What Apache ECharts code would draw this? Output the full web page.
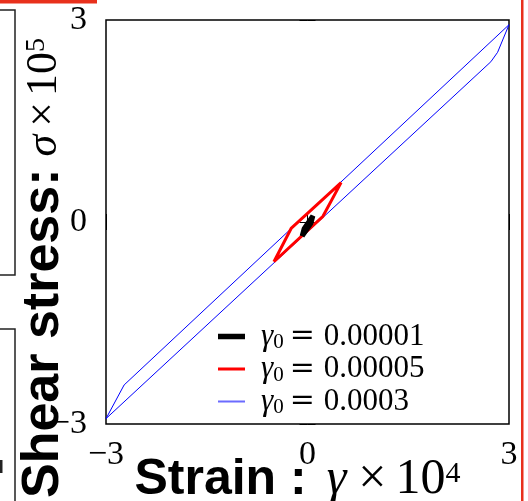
<!DOCTYPE html>
<html><head><meta charset="utf-8">
<script src="https://cdn.jsdelivr.net/npm/echarts@6/dist/echarts.min.js"></script>
<style>html,body{margin:0;padding:0;background:#fff}#c{width:528px;height:501px}</style>
</head><body><div id="c"></div>
<script>
// tick values (both axes)
const tickValues = [-3, 0, 3];
// legend / series names
const seriesNames = ['γ0 = 0.00001', 'γ0 = 0.00005', 'γ0 = 0.0003'];
// γ0 = 0.00001 loop (strain ×10^4, stress ×10^5)
const strain1 = [-0.08, -0.05, 0.08, 0.05, -0.08];
const stress1 = [-0.21, -0.10, 0.09, -0.02, -0.21];
// γ0 = 0.00005 loop
const strain2 = [-0.50, -0.24, 0.50, 0.23, -0.50];
const stress2 = [-0.59, -0.09, 0.585, 0.085, -0.59];
// γ0 = 0.0003 loop
const strain3 = [-3.00, -2.73, 3.00, 2.83, 2.73, -3.00];
const stress3 = [-2.92, -2.42, 2.93, 2.52, 2.38, -2.92];

const zip = (a, b) => a.map((v, i) => [v, b[i]]);
const fmt = v => v < 0 ? '\u2212' + (-v) : String(v);
const serif = 'Liberation Serif';
const sans = 'Liberation Sans';

// legend bar icons of different thickness inside a 27x14 box
const bar = h => {
  const y0 = 7 - h / 2, y1 = 7 + h / 2;
  return 'path://M0,0L0.01,0L0,0.01Z M27,14L26.99,14L27,13.99Z M0,' + y0 + 'L27,' + y0 + 'L27,' + y1 + 'L0,' + y1 + 'Z';
};

const chart = echarts.init(document.getElementById('c'), null, {renderer: 'canvas'});
const tickAxis = (pos, showLabel, margin) => ({
  type: 'value', min: -3, max: 3, interval: 3, position: pos,
  axisLine: {show: false},
  axisTick: {show: true, inside: true, length: 8, customValues: tickValues, lineStyle: {color: '#000', width: 1}},
  axisLabel: {show: showLabel, customValues: tickValues, formatter: fmt, fontFamily: serif, fontSize: 34, color: '#000', margin: margin},
  splitLine: {show: false}
});

const xMain = Object.assign(tickAxis('bottom', true, 14), {
  name: '{b|Strain :}{m|γ}{x|×}{n|10}{sup|4}',
  nameLocation: 'middle', nameGap: 28, nameMoveOverlap: false,
  nameTextStyle: {
    color: '#000',
    padding: [0, 20, 0, 0],
    rich: {
      b: {fontFamily: sans, fontWeight: 'bold', fontSize: 50, color: '#000', lineHeight: 56},
      m: {fontFamily: serif, fontStyle: 'italic', fontSize: 50, color: '#000', lineHeight: 56, padding: [0, 0, 0, 20]},
      x: {fontFamily: serif, fontSize: 50, color: '#000', lineHeight: 56, padding: [0, 0, 0, 12]},
      n: {fontFamily: serif, fontSize: 50, color: '#000', lineHeight: 56, padding: [0, 0, 0, 9]},
      sup: {fontFamily: serif, fontSize: 30, color: '#000', lineHeight: 56, padding: [0, 0, 12, 0]}
    }
  }
});
const yMain = Object.assign(tickAxis('left', true, 19), {
  name: '{b|Shear stress:}{m|σ}{x|×}{n|10}{sup|5}',
  nameLocation: 'middle', nameGap: 34, nameRotate: 90, nameMoveOverlap: false,
  nameTextStyle: {
    color: '#000',
    padding: [0, 92, 0, 0],
    rich: {
      b: {fontFamily: sans, fontWeight: 'bold', fontSize: 52, color: '#000', lineHeight: 56},
      m: {fontFamily: serif, fontStyle: 'italic', fontSize: 44, color: '#000', lineHeight: 56, padding: [0, 0, 0, 12]},
      x: {fontFamily: serif, fontSize: 44, color: '#000', lineHeight: 56, padding: [0, 0, 0, 8]},
      n: {fontFamily: serif, fontSize: 44, color: '#000', lineHeight: 56, padding: [0, 0, 0, 6]},
      sup: {fontFamily: serif, fontSize: 28, color: '#000', lineHeight: 56, padding: [0, 0, 14, 0]}
    }
  }
});

chart.setOption({
  animation: false,
  backgroundColor: '#fff',
  grid: {left: 106, right: 19, top: 20, bottom: 77, outerBoundsMode: 'none', containLabel: false,
         show: true, borderColor: '#000', borderWidth: 1.5, backgroundColor: 'transparent'},
  xAxis: [xMain, tickAxis('top', false, 8)],
  yAxis: [yMain, tickAxis('right', false, 8)],
  legend: {
    orient: 'vertical', left: 213, top: 316, itemWidth: 27, itemHeight: 14, itemGap: 0.5,
    data: [
      {name: seriesNames[0], icon: bar(5.5), itemStyle: {color: '#000'}},
      {name: seriesNames[1], icon: bar(3.2), itemStyle: {color: '#ff0000'}},
      {name: seriesNames[2], icon: bar(2), itemStyle: {color: '#6b6bff'}}
    ],
    formatter: name => '{g|γ}{s|0}{e|=}{t|' + name.split('= ')[1] + '}',
    textStyle: {
      color: '#000', fontFamily: serif, fontSize: 30, lineHeight: 30,
      rich: {
        g: {fontFamily: serif, fontStyle: 'italic', fontSize: 31, color: '#000', padding: [0, 0, 0, 11]},
        s: {fontFamily: serif, fontSize: 21, color: '#000', padding: [12, 0, 0, 0]},
        e: {fontFamily: 'DejaVu Serif', fontSize: 30, color: '#000', padding: [0, 9, 0, 6]},
        t: {fontFamily: serif, fontSize: 31, color: '#000'}
      }
    }
  },
  series: [
    {name: seriesNames[0], type: 'line', data: zip(strain1, stress1), symbol: 'none', z: 5,
     lineStyle: {color: '#000', width: 5}, itemStyle: {color: '#000'}},
    {name: seriesNames[1], type: 'line', data: zip(strain2, stress2), symbol: 'none', z: 4,
     lineStyle: {color: '#ff0000', width: 3}, itemStyle: {color: '#ff0000'}},
    {name: seriesNames[2], type: 'line', data: zip(strain3, stress3), symbol: 'none', z: 3,
     lineStyle: {color: '#0000ff', width: 1}, itemStyle: {color: '#0000ff'}}
  ],
  graphic: [
    {type: 'rect', shape: {x: 0, y: 0, width: 97, height: 3.5}, style: {fill: '#e8301c'}, silent: true},
    {type: 'rect', shape: {x: 521, y: 0, width: 2.5, height: 501}, style: {fill: '#e8301c'}, silent: true},
    {type: 'polyline', shape: {points: [[0, 10], [15, 10], [15, 275], [0, 275]]}, style: {stroke: '#222', lineWidth: 1.5, fill: null}, silent: true},
    {type: 'polyline', shape: {points: [[0, 329], [15, 329], [15, 501]]}, style: {stroke: '#222', lineWidth: 1.5, fill: null}, silent: true},
    {type: 'rect', shape: {x: 0, y: 460, width: 2.5, height: 13}, style: {fill: '#222'}, silent: true}
  ]
});
</script>
</body></html>
